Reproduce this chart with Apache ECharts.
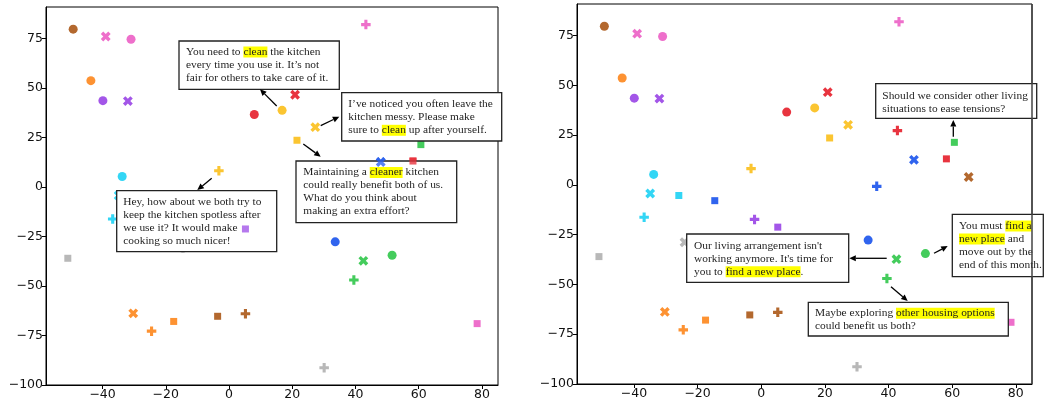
<!DOCTYPE html>
<html><head><meta charset="utf-8">
<script src="https://cdn.jsdelivr.net/npm/echarts@6/dist/echarts.min.js"></script>
<style>html,body{margin:0;padding:0;background:#fff}#c{width:1044px;height:404px}</style>
</head><body><div id="c"></div>
<script>
// marker order inside each group: circle, x, plus, square
const markerTypes = ['circle', 'x', 'plus', 'square'];
const brown  = [[-49.3, 79.7], [65.2, 4.0],   [5.2, -64.0],  [-3.6, -65.3]];
const pink   = [[-31.0, 74.6], [-39.0, 76.0], [43.3, 82.0],  [78.5, -69.0]];
const orange = [[-43.7, 53.7], [-30.3, -63.8],[-24.5, -72.8],[-17.5, -67.9]];
const purple = [[-39.9, 43.6], [-32.0, 43.4], [-2.1, -17.3], [5.2, -21.2]];
const red    = [[8.0, 36.6],   [20.9, 46.6],  [42.8, 27.3],  [58.2, 13.1]];
const yellow = [[16.8, 38.7],  [27.3, 30.2],  [-3.2, 8.2],   [21.5, 23.6]];
const cyan   = [[-33.8, 5.3],  [-34.9, -4.3], [-36.8, -16.2],[-25.9, -5.3]];
const grey   = [[-14.6, -31.0],[-24.1, -28.8],[30.1, -91.3], [-51.0, -36.0]];
const blue   = [[33.6, -27.7], [48.0, 12.6],  [36.3, -0.7],  [-14.6, -7.9]];
const green  = [[51.6, -34.5], [42.5, -37.3], [39.5, -47.0], [60.7, 21.4]];

const groups = [brown, pink, orange, purple, red, yellow, cyan, grey, blue, green];
const groupColors = ['#b3682e', '#ee6fcb', '#fd9232', '#a356e8', '#e8343f',
                     '#fbc531', '#33d6f5', '#b8b8b8', '#3064ee', '#44cc5c'];

// points drawn above the annotation boxes in the left panel: [group index, marker index]
const leftOnTop = [[3, 3], [8, 1], [4, 3]];

const xTicks = [-40, -20, 0, 20, 40, 60, 80];
const yTicks = [-100, -75, -50, -25, 0, 25, 50, 75];
const xRange = [-57.9, 85.1];
const yRange = [-100, 90.9];

const PLUS = 'path://M2.7,0H5.3V2.7H8V5.3H5.3V8H2.7V5.3H0V2.7H2.7Z';
const symbolOf = {
  circle: {symbol: 'circle', size: 9, rotate: 0},
  x: {symbol: PLUS, size: 10.5, rotate: 45},
  plus: {symbol: PLUS, size: 9.5, rotate: 0},
  square: {symbol: 'rect', size: 7, rotate: 0}
};

const fmt = v => String(v).replace('-', '\u2212');

function makeSeries(idx) {
  const out = [];
  markerTypes.forEach((m, mi) => {
    const s = symbolOf[m];
    out.push({
      type: 'scatter', xAxisIndex: idx, yAxisIndex: idx,
      symbol: s.symbol, symbolSize: s.size, symbolRotate: s.rotate,
      z: 2, silent: true, animation: false,
      data: groups.map((g, gi) => ({value: g[mi], itemStyle: {color: groupColors[gi], opacity: 1}}))
    });
  });
  return out;
}
const series = makeSeries(0).concat(makeSeries(1));
leftOnTop.forEach(([gi, mi]) => {
  const s = symbolOf[markerTypes[mi]];
  series.push({
    type: 'scatter', xAxisIndex: 0, yAxisIndex: 0,
    symbol: s.symbol, symbolSize: s.size, symbolRotate: s.rotate,
    z: 30, silent: true, animation: false,
    data: [{value: groups[gi][mi], itemStyle: {color: groupColors[gi]}}]
  });
});

function xAxis(i) {
  return {
    gridIndex: i, type: 'value', min: xRange[0], max: xRange[1],
    axisLine: {show: true, onZero: false, lineStyle: {color: '#000', width: 1}},
    axisTick: {show: true, length: 4, customValues: xTicks, lineStyle: {color: '#000', width: 1}},
    axisLabel: {customValues: xTicks, formatter: fmt, color: '#111', fontFamily: 'DejaVu Sans', fontSize: 12.5, margin: 3},
    splitLine: {show: false}
  };
}
function yAxis(i) {
  return {
    gridIndex: i, type: 'value', min: yRange[0], max: yRange[1],
    axisLine: {show: true, onZero: false, lineStyle: {color: '#000', width: 1}},
    axisTick: {show: true, length: 4, customValues: yTicks, lineStyle: {color: '#000', width: 1}},
    axisLabel: {customValues: yTicks, formatter: fmt, color: '#111', fontFamily: 'DejaVu Sans', fontSize: 12.5, margin: 3},
    splitLine: {show: false}
  };
}

const FONT = 'Liberation Serif';
const FS = 11.4;
function box(x, y, w, h, tx, ty, text) {
  return [
    {type: 'rect', z: 10, silent: true, shape: {x: x, y: y, width: w, height: h},
     style: {fill: '#fff', stroke: '#222', lineWidth: 1.3}},
    {type: 'text', z: 11, silent: true, x: tx, y: ty,
     style: {text: text, fontFamily: FONT, fontSize: FS, fill: '#1e1e1e', lineHeight: 13,
             verticalAlign: 'top', align: 'left',
             rich: {h: {backgroundColor: '#ffff00', fontFamily: FONT, fontSize: FS, fill: '#1e1e1e', lineHeight: 11, verticalAlign: 'middle'}}}}
  ];
}
function arrow(x1, y1, x2, y2) {
  const a = Math.atan2(y2 - y1, x2 - x1), L = 6.5, W = 3;
  const c = Math.cos(a), s = Math.sin(a);
  const bx = x2 - L * c, by = y2 - L * s;
  return [
    {type: 'line', z: 12, silent: true, shape: {x1: x1, y1: y1, x2: bx, y2: by}, style: {stroke: '#000', lineWidth: 1.3}},
    {type: 'polygon', z: 12, silent: true, shape: {points: [[x2, y2], [bx + W * s, by - W * c], [bx - W * s, by + W * c]]}, style: {fill: '#000'}}
  ];
}

const graphics = [].concat(
  box(179, 41, 160.3, 48.3, 186, 45.5, 'You need to {h|clean} the kitchen\nevery time you use it. It\u2019s not\nfair for others to take care of it.'),
  arrow(276.7, 106, 260, 89.3),
  box(341.7, 92.7, 160, 48.3, 348.3, 97.8, 'I\u2019ve noticed you often leave the\nkitchen messy. Please make\nsure to {h|clean} up after yourself.'),
  arrow(320.7, 125.7, 339.3, 116.7),
  box(296, 161, 160.7, 61.7, 303.3, 166, 'Maintaining a {h|cleaner} kitchen\ncould really benefit both of us.\nWhat do you think about\nmaking an extra effort?'),
  arrow(303.3, 144, 320.7, 156.7),
  box(116.7, 190.7, 160, 61, 123.3, 195.2, 'Hey, how about we both try to\nkeep the kitchen spotless after\nwe use it? It would make\ncooking so much nicer!'),
  arrow(211.7, 178.3, 197.3, 190),
  box(875.7, 83.7, 161, 34.6, 882.3, 89.2, 'Should we consider other living\nsituations to ease tensions?'),
  arrow(953.3, 136.7, 953.3, 120),
  box(686.7, 234, 162, 48.3, 694, 239.2, "Our living arrangement isn't\nworking anymore. It's time for\nyou to {h|find a new place}."),
  arrow(886.7, 258.3, 849.3, 258.3),
  box(952.3, 214.3, 91, 62.4, 959, 219.5, 'You must {h|find a}\n{h|new place} and\nmove out by the\nend of this month.'),
  arrow(934, 253.3, 947.7, 246),
  box(808.3, 302.3, 200, 33.7, 815, 306.8, 'Maybe exploring {h|other housing options}\ncould benefit us both?'),
  arrow(891, 286.7, 907.7, 301),
  [{type: 'line', z: 20, silent: true, shape: {x1: 1032, y1: 4, x2: 1032, y2: 384}, style: {stroke: '#444', lineWidth: 1.5}}]
);

const chart = echarts.init(document.getElementById('c'), null, {renderer: 'canvas'});
chart.setOption({
  animation: false,
  backgroundColor: '#fff',
  grid: [
    {left: 46, top: 7, width: 452, height: 378, show: true, borderColor: '#000', borderWidth: 1, containLabel: false},
    {left: 577, top: 4, width: 455, height: 380, show: true, borderColor: '#000', borderWidth: 1, containLabel: false}
  ],
  xAxis: [xAxis(0), xAxis(1)],
  yAxis: [yAxis(0), yAxis(1)],
  series: series,
  graphic: {elements: graphics}
});
</script></body></html>
